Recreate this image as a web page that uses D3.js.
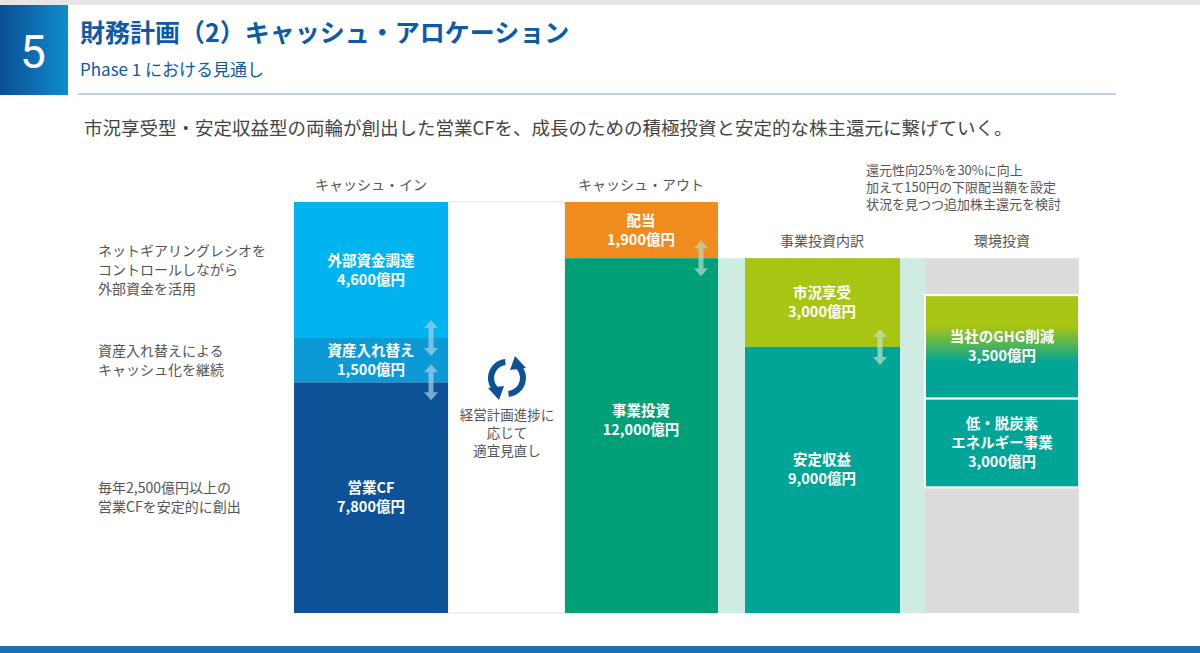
<!DOCTYPE html>
<html><head><meta charset="utf-8">
<script src="https://cdn.jsdelivr.net/npm/d3@7"></script>
<style>body{margin:0;background:#fff;font-family:"Noto Sans CJK JP","Noto Sans",sans-serif}</style>
</head><body><svg id="c" width="1200" height="653"></svg>
<script>
// data (億円)
const cashIn = [
  {label:"外部資金調達", value:4600, color:"#00b5ef"},
  {label:"資産入れ替え", value:1500, color:"#0b9ad6"},
  {label:"営業CF", value:7800, color:"#0d5296"}
];
const cashOut = [
  {label:"配当", value:1900, color:"#f08c1e"},
  {label:"事業投資", value:12000, color:"#00a077"}
];
const bizInvest = [
  {label:"市況享受", value:3000, color:"#a8c514"},
  {label:"安定収益", value:9000, color:"#00a597"}
];
const envStart = 1250; // offset from top of business invest
const envInvest = [
  {label:["当社のGHG削減"], value:3500},
  {label:["低・脱炭素","エネルギー事業"], value:3000}
];
const leftNotes = [
  {lines:["ネットギアリングレシオを","コントロールしながら","外部資金を活用"], at:0},
  {lines:["資産入れ替えによる","キャッシュ化を継続"], at:1},
  {lines:["毎年2,500億円以上の","営業CFを安定的に創出"], at:2}
];

const svg = d3.select("#c");
const total = d3.sum(cashIn, d=>d.value);
const y = d3.scaleLinear().domain([0, total]).range([202, 613]);
const fmt = d3.format(",");

// header
svg.append("rect").attr("x",0).attr("y",0).attr("width",1200).attr("height",5).attr("fill","#e6e6e6");
const g = svg.append("defs").append("linearGradient").attr("id","hg").attr("x1",0).attr("x2",1);
g.append("stop").attr("offset",0).attr("stop-color","#0a4e94");
g.append("stop").attr("offset",1).attr("stop-color","#0f8ccc");
svg.append("rect").attr("x",0).attr("y",5).attr("width",68).attr("height",90).attr("fill","url(#hg)");
svg.append("text").attr("x",33).attr("y",68).attr("text-anchor","middle").attr("fill","#fff").attr("font-size",46).attr("font-family","Roboto,sans-serif").text("5");
svg.append("text").attr("x",80).attr("y",42).attr("fill","#0d5aa7").attr("font-size",25).attr("font-weight","bold").text("財務計画（2）キャッシュ・アロケーション");
svg.append("text").attr("x",80).attr("y",76).attr("fill","#0d5aa7").attr("font-size",17).text("Phase 1 における見通し");
svg.append("line").attr("x1",78).attr("x2",1116).attr("y1",94).attr("y2",94).attr("stroke","#a9c4dc").attr("stroke-width",1.5);
svg.append("text").attr("x",84).attr("y",135).attr("fill","#444").attr("font-size",18.5).text("市況享受型・安定収益型の両輪が創出した営業CFを、成長のための積極投資と安定的な株主還元に繋げていく。");
svg.append("rect").attr("x",0).attr("y",646).attr("width",1200).attr("height",7).attr("fill","#1d6fb0");

// column headers
const hdr=(x,yy,t)=>svg.append("text").attr("x",x).attr("y",yy).attr("text-anchor","middle").attr("fill","#555").attr("font-size",14).text(t);
hdr(371,190,"キャッシュ・イン"); hdr(641,190,"キャッシュ・アウト"); hdr(822,246,"事業投資内訳"); hdr(1002,246,"環境投資");
["還元性向25%を30%に向上","加えて150円の下限配当額を設定","状況を見つつ追加株主還元を検討"].forEach((t,i)=>
  svg.append("text").attr("x",866).attr("y",175+i*17).attr("fill","#555").attr("font-size",13).text(t));

function stack(arr, start){ let c=start; return arr.map(d=>{const o={...d,y0:c,y1:c+d.value}; c+=d.value; return o;}); }
function label(x, y0, y1, lines, off){
  const cy=(y(y0)+y(y1))/2 + (off||0);
  lines.forEach((t,i)=>svg.append("text").attr("x",x).attr("y",cy+(i-(lines.length-1)/2)*19+5)
    .attr("text-anchor","middle").attr("fill","#fff").attr("font-size",14.5).attr("font-weight","bold").text(t));
}

// middle white box
svg.append("rect").attr("x",448).attr("y",y(0)).attr("width",117).attr("height",y(total)-y(0)).attr("fill","#fff").attr("stroke","#e4e4e4");

// cash in
const ci = stack(cashIn,0);
svg.selectAll(".ci").data(ci).join("rect").attr("x",294).attr("width",154).attr("y",d=>y(d.y0)).attr("height",d=>y(d.y1)-y(d.y0)).attr("fill",d=>d.color);
ci.forEach(d=>label(371,d.y0,d.y1,[d.label, fmt(d.value)+"億円"]));

// cash out
const co = stack(cashOut,0);
const bizTop = co[1].y0;
// light band behind breakdown
svg.append("rect").attr("x",718).attr("width",207).attr("y",y(bizTop)).attr("height",y(total)-y(bizTop)).attr("fill","#cfece3");
svg.append("rect").attr("x",925).attr("width",154).attr("y",y(bizTop)).attr("height",y(total)-y(bizTop)).attr("fill","#dcdcdc");
svg.selectAll(".co").data(co).join("rect").attr("x",565).attr("width",153).attr("y",d=>y(d.y0)).attr("height",d=>y(d.y1)-y(d.y0)).attr("fill",d=>d.color);
co.forEach(d=>label(641,d.y0,d.y1,[d.label, fmt(d.value)+"億円"], d.value>5000?-15:0));

const bi = stack(bizInvest,bizTop);
svg.selectAll(".bi").data(bi).join("rect").attr("x",745).attr("width",155).attr("y",d=>y(d.y0)).attr("height",d=>y(d.y1)-y(d.y0)).attr("fill",d=>d.color);
bi.forEach(d=>label(822,d.y0,d.y1,[d.label, fmt(d.value)+"億円"], d.value>5000?-10:0));

// env
const eg = svg.select("defs").append("linearGradient").attr("id","eg").attr("x1",0).attr("x2",0).attr("y1",0).attr("y2",1);
eg.append("stop").attr("offset",0.3).attr("stop-color","#a8c514");
eg.append("stop").attr("offset",0.65).attr("stop-color","#00a597");
const ei = stack(envInvest,bizTop+envStart);
svg.selectAll(".ei").data(ei).join("rect").attr("x",925).attr("width",154).attr("y",d=>y(d.y0)).attr("height",d=>y(d.y1)-y(d.y0))
  .attr("fill",(d,i)=>i===0?"url(#eg)":"#00a597").attr("stroke","#fff").attr("stroke-width",2);
ei.forEach(d=>label(1002,d.y0,d.y1,[...d.label, fmt(d.value)+"億円"]));

// left notes
leftNotes.forEach(n=>{
  const d=ci[n.at]; const cy=(y(d.y0)+y(d.y1))/2 + (n.at===0?0:n.at===1?0:0);
  n.lines.forEach((t,i)=>svg.append("text").attr("x",98).attr("y",cy+(i-(n.lines.length-1)/2)*19+5).attr("fill","#555").attr("font-size",14).text(t));
});

// double arrows
function darrow(x, yc, col){
  const a=svg.append("g").attr("opacity",0.7).attr("fill",col);
  a.append("rect").attr("x",x-2.5).attr("y",yc-12).attr("width",5).attr("height",24);
  a.append("path").attr("d",`M${x-7},${yc-10}L${x},${yc-18}L${x+7},${yc-10}Z`);
  a.append("path").attr("d",`M${x-7},${yc+10}L${x},${yc+18}L${x+7},${yc+10}Z`);
}
darrow(431,y(ci[1].y0),"#a9d0ea");
darrow(431,y(ci[2].y0),"#a9d0ea");
darrow(701,y(co[1].y0),"#b4dccd");
darrow(880,y(bi[1].y0),"#c4e3c8");

// cycle icon
const ic = svg.append("g").attr("transform","translate(507,378)");
const arc = d3.arc().innerRadius(13).outerRadius(19);
ic.append("path").attr("d",arc({startAngle:-2.6,endAngle:-0.1})).attr("fill","#0d5296");
ic.append("path").attr("d",arc({startAngle:0.55,endAngle:3.05})).attr("fill","#0d5296");
ic.append("path").attr("d","M8,-22L19,-10L3,-8Z").attr("fill","#0d5296");
ic.append("path").attr("d","M-8,22L-19,10L-3,8Z").attr("fill","#0d5296");
["経営計画進捗に","応じて","適宜見直し"].forEach((t,i)=>svg.append("text").attr("x",507).attr("y",420+i*18).attr("text-anchor","middle").attr("fill","#555").attr("font-size",13.5).text(t));
</script></body></html>
